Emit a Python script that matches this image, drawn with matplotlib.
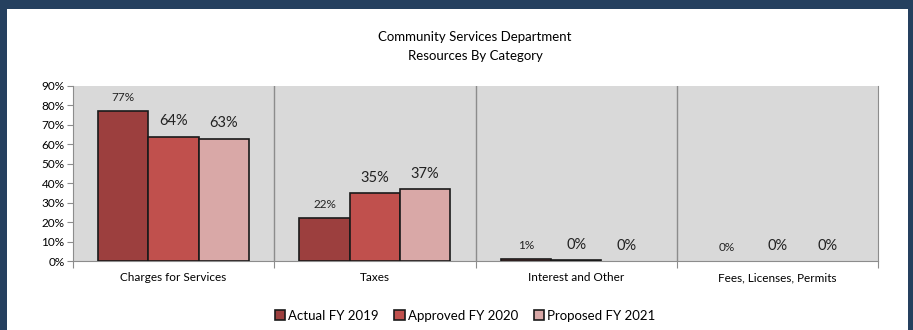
import matplotlib.pyplot as plt
from matplotlib.patches import Rectangle
import numpy as np

categories = ['Charges for Services', 'Taxes', 'Interest and Other', 'Fees, Licenses, Permits']
series_names = ['Actual FY 2019', 'Approved FY 2020', 'Proposed FY 2021']
actual_2019 = [77, 22, 1, 0]
approved_2020 = [64, 35, 0.3, 0]
proposed_2021 = [63, 37, 0, 0]
yticks = [0, 10, 20, 30, 40, 50, 60, 70, 80, 90]

colors = ['#9c3f3e', '#c0504d', '#d9a8a7']
label_sizes = [8.5, 10.5, 10.5]  # first series uses smaller data labels

plt.rcParams['font.family'] = ['Lato', 'DejaVu Sans']

W, H = 913, 330
fig = plt.figure(figsize=(W / 100, H / 100), dpi=100, facecolor='#25405f')

# white card behind the chart
fig.add_artist(Rectangle((7 / W, 0), 901 / W, (H - 9) / H, transform=fig.transFigure,
                         facecolor='white', edgecolor='none', zorder=0))

ax = fig.add_axes([73 / W, (H - 261) / H, (878 - 73) / W, (261 - 86) / H])
ax.set_facecolor('#d9d9d9')

x = np.arange(len(categories))
width = 0.25
for i, (vals, name) in enumerate(zip([actual_2019, approved_2020, proposed_2021], series_names)):
    pos = x + (i - 1) * width
    bars = ax.bar(pos, vals, width, color=colors[i], edgecolor='#1a1a1a', linewidth=1.2,
                  label=name, zorder=3)
    for b, px, v in zip(bars, pos, vals):
        if v == 0:
            b.set_linewidth(0)
        ax.annotate(f'{v:.0f}%', (px, v), xytext=(0, 6), textcoords='offset points',
                    ha='center', va='bottom', fontsize=label_sizes[i], color='#222222')

ax.set_xlim(-0.5, len(categories) - 0.5)
ax.set_ylim(0, 90)
ax.set_yticks(yticks)
ax.set_yticklabels([f'{t}%' for t in yticks], fontsize=8.5)

# category separators
for b in np.arange(0.5, len(categories) - 0.5, 1):
    ax.axvline(b, color='#8c8c8c', linewidth=1, zorder=1)

ax.set_xticks(np.arange(-0.5, len(categories), 1))
ax.set_xticklabels([])
ax.set_xticks(x, minor=True)
ax.set_xticklabels(categories, minor=True, fontsize=8.5)
ax.tick_params(axis='x', which='minor', length=0, pad=8)
ax.tick_params(axis='x', which='major', length=5, color='#8c8c8c')
ax.tick_params(axis='y', length=4, color='#8c8c8c', pad=2)

ax.spines['top'].set_visible(False)
for s in ['left', 'bottom', 'right']:
    ax.spines[s].set_color('#8c8c8c')

fig.text(475 / W, 1 - 37 / H, 'Community Services Department', ha='center', va='center', fontsize=9.5)
fig.text(475 / W, 1 - 56 / H, 'Resources By Category', ha='center', va='center', fontsize=9.5)

fig.legend(loc='center', bbox_to_anchor=(465 / W, 1 - 316 / H), ncol=3, frameon=False,
           fontsize=9.5, handlelength=0.8, handleheight=0.8, handletextpad=0.2, columnspacing=1.2)

fig.savefig('out.png', dpi=100, facecolor=fig.get_facecolor())
